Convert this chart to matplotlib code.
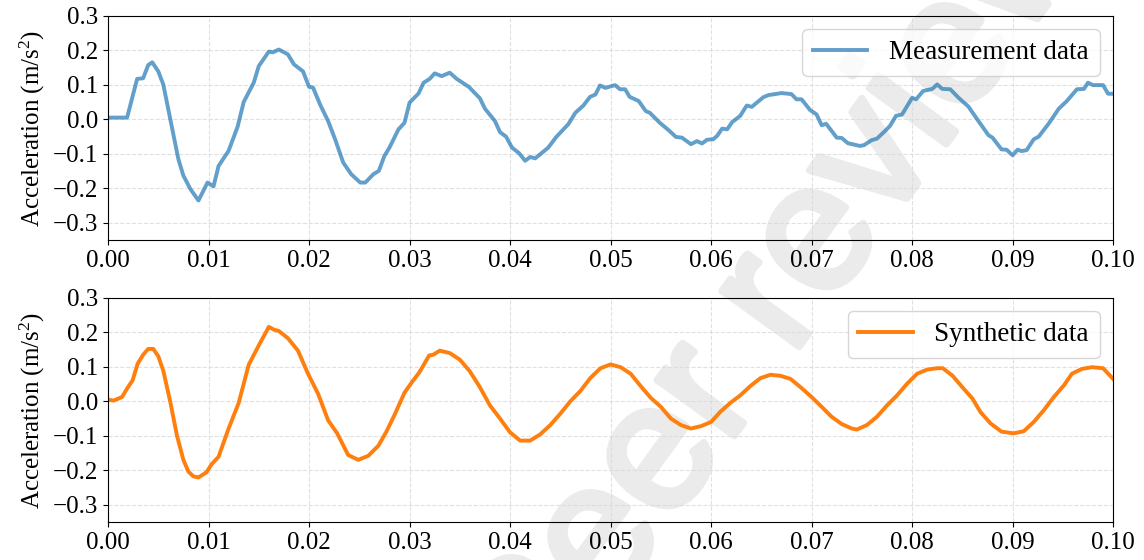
import numpy as np
import matplotlib
matplotlib.use("Agg")
import matplotlib.pyplot as plt
import matplotlib.patheffects as pe

# Time stamps in milliseconds (converted to seconds for plotting)
meas_t_ms = [0.0, 1.9, 2.9, 3.5, 4.0, 4.4, 5.0, 5.5, 6.2, 7.0, 7.5, 8.2, 9.0, 9.9,
             10.5, 11.0, 12.0, 12.9, 13.5, 14.5, 15.0, 16.0, 16.4, 17.0, 17.9, 18.5,
             19.4, 20.0, 20.4, 21.1, 21.9, 22.6, 23.4, 24.2, 25.1, 25.6, 26.4, 26.95,
             27.5, 28.0, 28.9, 29.5, 30.0, 30.9, 31.4, 32.0, 32.5, 33.2, 34.0, 34.7,
             35.9, 37.0, 37.5, 38.5, 39.0, 39.6, 40.2, 40.9, 41.5, 42.0, 42.5, 43.8,
             44.6, 45.8, 46.5, 47.3, 47.96, 48.5, 48.95, 49.5, 50.45, 50.95, 51.45,
             51.9, 52.8, 53.5, 53.9, 54.9, 55.8, 56.5, 57.1, 58.0, 58.6, 59.1, 59.6,
             60.2, 60.6, 61.1, 61.6, 62.1, 62.9, 63.55, 64.05, 65.2, 65.7, 67.0, 68.0,
             68.5, 69.0, 69.85, 70.5, 71.0, 71.45, 72.5, 73.0, 73.6, 74.8, 75.2, 76.0,
             76.5, 77.3, 77.8, 78.4, 79.0, 80.0, 80.4, 81.1, 82.0, 82.5, 83.0, 83.8,
             84.6, 85.6, 86.6, 87.6, 88.0, 88.9, 89.4, 90.0, 90.5, 90.9, 91.4, 92.1,
             92.6, 93.6, 94.6, 95.4, 96.4, 97.1, 97.5, 98.0, 99.0, 99.5, 100.0]
meas_acc = [0.005, 0.005, 0.117, 0.119, 0.157, 0.165, 0.139, 0.101, 0.0, -0.115,
            -0.163, -0.202, -0.235, -0.183, -0.194, -0.135, -0.091, -0.021, 0.05,
            0.106, 0.154, 0.196, 0.194, 0.202, 0.188, 0.159, 0.139, 0.094, 0.092,
            0.043, -0.005, -0.058, -0.125, -0.159, -0.183, -0.183, -0.159, -0.149,
            -0.106, -0.082, -0.029, -0.010, 0.048, 0.075, 0.106, 0.117, 0.133, 0.125,
            0.135, 0.117, 0.094, 0.061, 0.031, -0.005, -0.037, -0.050, -0.082,
            -0.098, -0.120, -0.109, -0.113, -0.082, -0.051, -0.014, 0.019, 0.040,
            0.065, 0.072, 0.098, 0.091, 0.099, 0.087, 0.087, 0.065, 0.053, 0.024,
            0.019, -0.010, -0.032, -0.051, -0.053, -0.072, -0.063, -0.070, -0.059,
            -0.058, -0.048, -0.027, -0.029, -0.008, 0.010, 0.040, 0.036, 0.064,
            0.070, 0.076, 0.073, 0.058, 0.058, 0.027, 0.014, -0.017, -0.013, -0.053,
            -0.054, -0.069, -0.077, -0.075, -0.060, -0.056, -0.034, -0.019, 0.010,
            0.014, 0.062, 0.058, 0.082, 0.088, 0.101, 0.088, 0.087, 0.063, 0.037,
            -0.005, -0.046, -0.053, -0.087, -0.088, -0.104, -0.088, -0.092, -0.089,
            -0.058, -0.050, -0.012, 0.031, 0.053, 0.087, 0.088, 0.106, 0.099, 0.099,
            0.074, 0.074]

syn_t_ms = [0.0, 0.56, 1.4, 1.9, 2.45, 2.95, 3.5, 4.0, 4.5, 5.0, 5.5, 6.2, 6.85,
            7.5, 8.0, 8.5, 9.0, 9.8, 10.3, 11.0, 12.0, 13.0, 14.0, 15.0, 16.0, 16.5,
            17.0, 17.9, 18.9, 19.9, 20.9, 21.9, 22.8, 23.9, 24.9, 25.9, 26.9, 27.7,
            28.5, 29.5, 30.2, 31.0, 31.95, 32.35, 33.0, 34.0, 35.0, 36.0, 37.0, 38.0,
            39.0, 40.0, 41.0, 42.0, 43.0, 44.0, 45.0, 46.0, 47.0, 48.0, 49.0, 50.0,
            51.0, 52.0, 53.0, 54.0, 55.0, 56.0, 57.0, 58.0, 59.0, 60.0, 60.9, 61.9,
            62.9, 63.9, 64.9, 65.9, 66.9, 67.9, 68.9, 70.0, 71.0, 72.0, 73.0, 74.0,
            74.5, 75.5, 76.5, 77.5, 78.5, 79.5, 80.5, 81.5, 82.5, 83.05, 84.0, 85.0,
            86.0, 86.8, 87.8, 88.9, 90.1, 91.1, 92.1, 93.1, 94.1, 95.1, 95.9, 96.9,
            97.9, 99.0, 100.0]
syn_acc = [0.005, 0.002, 0.0125, 0.037, 0.061, 0.109, 0.135, 0.152, 0.152, 0.131,
           0.089, -0.002, -0.098, -0.170, -0.204, -0.218, -0.221, -0.206, -0.183,
           -0.161, -0.079, -0.005, 0.106, 0.162, 0.216, 0.208, 0.204, 0.183, 0.147,
           0.080, 0.022, -0.055, -0.093, -0.156, -0.170, -0.158, -0.129, -0.088,
           -0.040, 0.025, 0.054, 0.085, 0.133, 0.135, 0.147, 0.140, 0.121, 0.087,
           0.041, -0.012, -0.050, -0.090, -0.114, -0.114, -0.096, -0.069, -0.036,
           0.0, 0.030, 0.068, 0.096, 0.107, 0.099, 0.080, 0.044, 0.010, -0.016,
           -0.050, -0.069, -0.079, -0.072, -0.060, -0.031, -0.005, 0.017, 0.044,
           0.067, 0.077, 0.074, 0.065, 0.041, 0.0125, -0.016, -0.045, -0.066, -0.079,
           -0.082, -0.069, -0.045, -0.012, 0.017, 0.051, 0.080, 0.092, 0.096, 0.096,
           0.075, 0.041, 0.008, -0.031, -0.064, -0.088, -0.093, -0.087, -0.060,
           -0.026, 0.0125, 0.046, 0.080, 0.094, 0.099, 0.096, 0.065]

x_ticks = [0.00, 0.01, 0.02, 0.03, 0.04, 0.05, 0.06, 0.07, 0.08, 0.09, 0.10]
y_ticks = [-0.3, -0.2, -0.1, 0.0, 0.1, 0.2, 0.3]

plt.rcParams['font.family'] = ['Liberation Serif', 'DejaVu Serif']
plt.rcParams['mathtext.fontset'] = 'custom'
plt.rcParams['mathtext.rm'] = 'Liberation Serif'
plt.rcParams['mathtext.it'] = 'Liberation Serif:italic'
plt.rcParams['font.size'] = 18

fig = plt.figure(figsize=(11.44, 5.6), dpi=100)
ax1 = fig.add_axes([0.0944, 0.571, 0.8786, 0.401])
ax2 = fig.add_axes([0.0944, 0.068, 0.8786, 0.400])

series = [
    (ax1, meas_t_ms, meas_acc, 'tab:blue', 0.7, 'Measurement data'),
    (ax2, syn_t_ms, syn_acc, 'tab:orange', 1.0, 'Synthetic data'),
]

for ax, t_ms, acc, color, alpha, label in series:
    t = np.array(t_ms) / 1000.0
    ax.set_facecolor('none')
    ax.plot(t, acc, color=color, alpha=alpha, linewidth=2.8, label=label)
    ax.set_xlim(0, 0.1)
    ax.set_ylim(-0.35, 0.3)
    ax.set_xticks(x_ticks)
    ax.set_yticks(y_ticks)
    ax.set_xticklabels(['%.2f' % v for v in x_ticks])
    ax.set_yticklabels(['%.1f' % v if v >= 0 else '\u2212%.1f' % abs(v) for v in y_ticks])
    ax.set_ylabel('Acceleration (m/s$^2$)', labelpad=4)
    ax.grid(True, linestyle='--', color='#d9d9d9', alpha=0.8, linewidth=0.8)
    ax.tick_params(labelsize=18)
    ax.legend(loc='upper right', fontsize=19.5, handlelength=2.0)

# light diagonal watermark behind the axes
fig.text(0.682, 0.477, 'Peer review', fontsize=130, family='Liberation Sans',
         color='#ebebeb', rotation=54,
         ha='center', va='center', rotation_mode='anchor', zorder=-1,
         path_effects=[pe.withStroke(linewidth=5, foreground='#ebebeb')])

fig.savefig('out.png', dpi=100)
